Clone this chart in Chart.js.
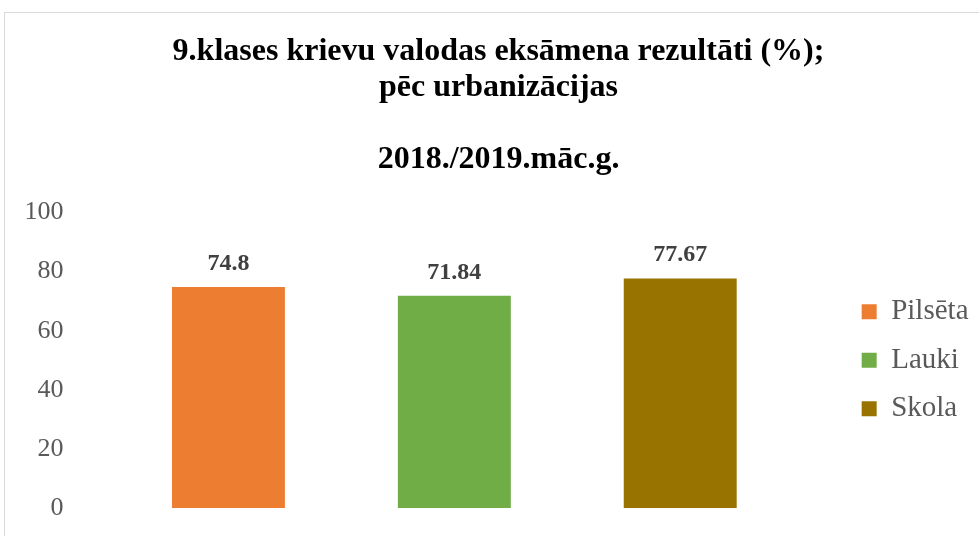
<!DOCTYPE html>
<html>
<head>
<meta charset="utf-8">
<script src="https://cdn.jsdelivr.net/npm/chart.js@4/dist/chart.umd.min.js"></script>
<style>
  body { margin: 0; background: #fff; overflow: hidden; }
  #box { position: absolute; left: 4px; top: 12px; width: 990px; height: 530px; border: 1px solid #d9d9d9; }
</style>
</head>
<body>
<div id="box"><canvas id="myChart"></canvas></div>
<script>
// chart values
const categories = ['Pilsēta', 'Lauki', 'Skola'];
const results = [74.8, 71.84, 77.67];
const barColors = ['#ED7D31', '#70AD47', '#997300'];
const titleLines = ['9.klases krievu valodas eksāmena rezultāti (%);', 'pēc urbanizācijas', '', '2018./2019.māc.g.'];

const serif = "'Liberation Serif', 'Times New Roman', serif";

// value labels above the bars
const valueLabels = {
    id: 'valueLabels',
    afterDatasetsDraw(chart) {
        const ctx = chart.ctx;
        const meta = chart.getDatasetMeta(0);
        ctx.save();
        ctx.font = 'bold 24px ' + serif;
        ctx.fillStyle = '#404040';
        ctx.textAlign = 'center';
        ctx.textBaseline = 'alphabetic';
        meta.data.forEach((bar, i) => {
            ctx.fillText(String(chart.data.datasets[0].data[i]), bar.x, bar.y - 17);
        });
        ctx.restore();
    }
};

const ctx = document.getElementById('myChart');
const myChart = new Chart(ctx, {
    type: 'bar',
    data: {
        labels: categories,
        datasets: [{
            data: results,
            backgroundColor: barColors,
            borderWidth: 0,
            barPercentage: 0.5,
            categoryPercentage: 1
        }]
    },
    options: {
        responsive: true,
        maintainAspectRatio: false,
        animation: false,
        events: [],
        layout: {
            padding: { left: 13.5, right: 16.5, top: 0, bottom: 35 }
        },
        scales: {
            x: { display: false },
            y: {
                min: 0,
                max: 100,
                ticks: {
                    stepSize: 20,
                    padding: 52,
                    color: '#595959',
                    font: { family: serif, size: 26 }
                },
                grid: { display: false, drawTicks: false },
                border: { display: false },
                // fixed width; tick padding should not eat vertical space
                afterFit: s => { s.width = 97; s.paddingTop = 0; s.paddingBottom = 0; }
            },
            gap: {                          // empty space between plot and legend
                type: 'linear',
                position: 'right',
                ticks: { display: false },
                grid: { display: false, drawTicks: false },
                border: { display: false },
                afterFit: s => { s.width = 49; }
            }
        },
        plugins: {
            title: {
                display: true,
                text: titleLines,
                color: '#000',
                font: { family: serif, size: 32, weight: 'bold', lineHeight: 1.125 },
                padding: { top: 21, bottom: 34.5 }
            },
            legend: {
                position: 'right',
                fullSize: false,
                labels: {
                    boxWidth: 15,
                    boxHeight: 15,
                    padding: 19.5,
                    color: '#595959',
                    font: { family: serif, size: 29 },
                    generateLabels: chart => chart.data.labels.map((label, i) => ({
                        text: label,
                        fillStyle: barColors[i],
                        strokeStyle: barColors[i],
                        fontColor: '#595959',
                        lineWidth: 0,
                        hidden: false,
                        index: i
                    }))
                }
            },
            tooltip: { enabled: false }
        }
    },
    plugins: [valueLabels]
});
</script>
</body>
</html>
